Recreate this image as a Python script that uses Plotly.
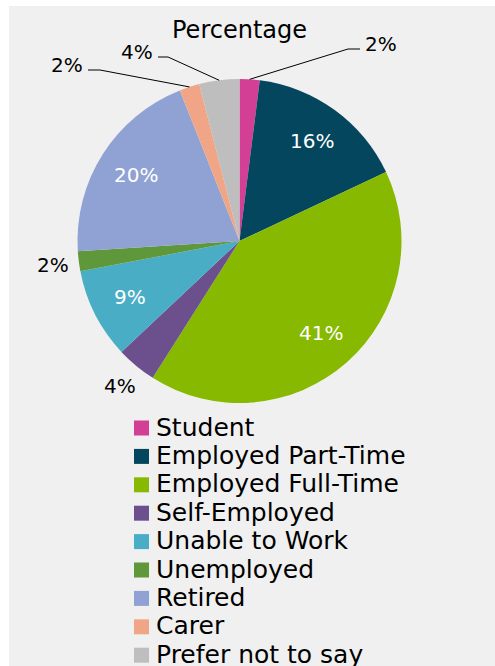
import math
import plotly.graph_objects as go

# Survey answers: employment status share (%)
categories = ["Student", "Employed Part-Time", "Employed Full-Time", "Self-Employed",
              "Unable to Work", "Unemployed", "Retired", "Carer", "Prefer not to say"]
values = [2, 16, 41, 4, 9, 2, 20, 2, 4]
colors = ["#d43f96", "#03465e", "#86b900", "#6b508d", "#4aadc6",
          "#5f973b", "#8fa2d3", "#f0a686", "#bebebe"]
title_text = "Percentage"

W, H = 495, 666
FONT = "DejaVu Sans"
BG = "#f0f0f0"

# pie geometry in page pixels
cx, cy, R = 239.5, 241.0, 162.0

# how each slice label is placed: inside (white), outside (black), or with a leader line
inside = {"Employed Part-Time", "Employed Full-Time", "Unable to Work", "Retired"}
leaders = {  # elbow point, end of horizontal run, text side
    "Student": ((348, 49), 360, "left"),
    "Carer": ((100, 70), 88, "right"),
    "Prefer not to say": ((168, 57), 158, "right"),
}


def px(x):
    return x / W


def py(y):
    return 1 - y / H


def note(text, x, y, size, color, xanchor="center"):
    return dict(text=text, x=px(x), y=py(y), xref="paper", yref="paper",
                showarrow=False, xanchor=xanchor, yanchor="middle",
                font=dict(family=FONT, size=size, color=color))


fig = go.Figure()
fig.add_trace(go.Pie(
    labels=categories,
    values=values,
    marker=dict(colors=colors, line=dict(width=0)),
    sort=False,
    direction="clockwise",
    rotation=0,
    textinfo="none",
    showlegend=False,
    domain=dict(x=[px(cx - R), px(cx + R)], y=[py(cy + R), py(cy - R)]),
))

shapes = [dict(type="rect", xref="paper", yref="paper", x0=px(9), x1=1.0, y0=0.0, y1=py(6),
               fillcolor=BG, line=dict(width=0), layer="below")]
annotations = [note(title_text, cx, 30, 24, "black")]

total = sum(values)
cum = 0.0
for cat, v in zip(categories, values):
    mid = (cum + v / 2) / total * 2 * math.pi
    cum += v
    sx, sy = math.sin(mid), -math.cos(mid)
    label = f"{v}%"
    if cat in inside:
        rr = 0.76 * R
        annotations.append(note(label, cx + rr * sx, cy + rr * sy, 20, "white"))
    elif cat in leaders:
        (ex, ey), hx, side = leaders[cat]
        edge = (cx + R * sx, cy + R * sy)
        path = f"M{px(edge[0])},{py(edge[1])} L{px(ex)},{py(ey)} L{px(hx)},{py(ey)}"
        shapes.append(dict(type="path", xref="paper", yref="paper", path=path,
                           line=dict(color="black", width=1)))
        tx = hx + 3 if side == "left" else hx - 3
        annotations.append(note(label, tx, ey - 5, 20, "black", xanchor=side))
    else:
        rr = 1.16 * R
        annotations.append(note(label, cx + rr * sx, cy + rr * sy, 20, "black"))

# legend: colour squares with category names, one per row
row0, step = 428.0, 28.4
for i, (cat, col) in enumerate(zip(categories, colors)):
    yc = row0 + i * step
    shapes.append(dict(type="rect", xref="paper", yref="paper",
                       x0=px(134), x1=px(149), y0=py(yc + 7.5), y1=py(yc - 7.5),
                       fillcolor=col, line=dict(width=0)))
    annotations.append(note(cat, 154, yc - 1, 25, "black", xanchor="left"))

fig.update_layout(
    width=W, height=H,
    margin=dict(l=0, r=0, t=0, b=0),
    paper_bgcolor="white",
    plot_bgcolor="white",
    shapes=shapes,
    annotations=annotations,
    showlegend=False,
)

fig.write_html("out.html")
